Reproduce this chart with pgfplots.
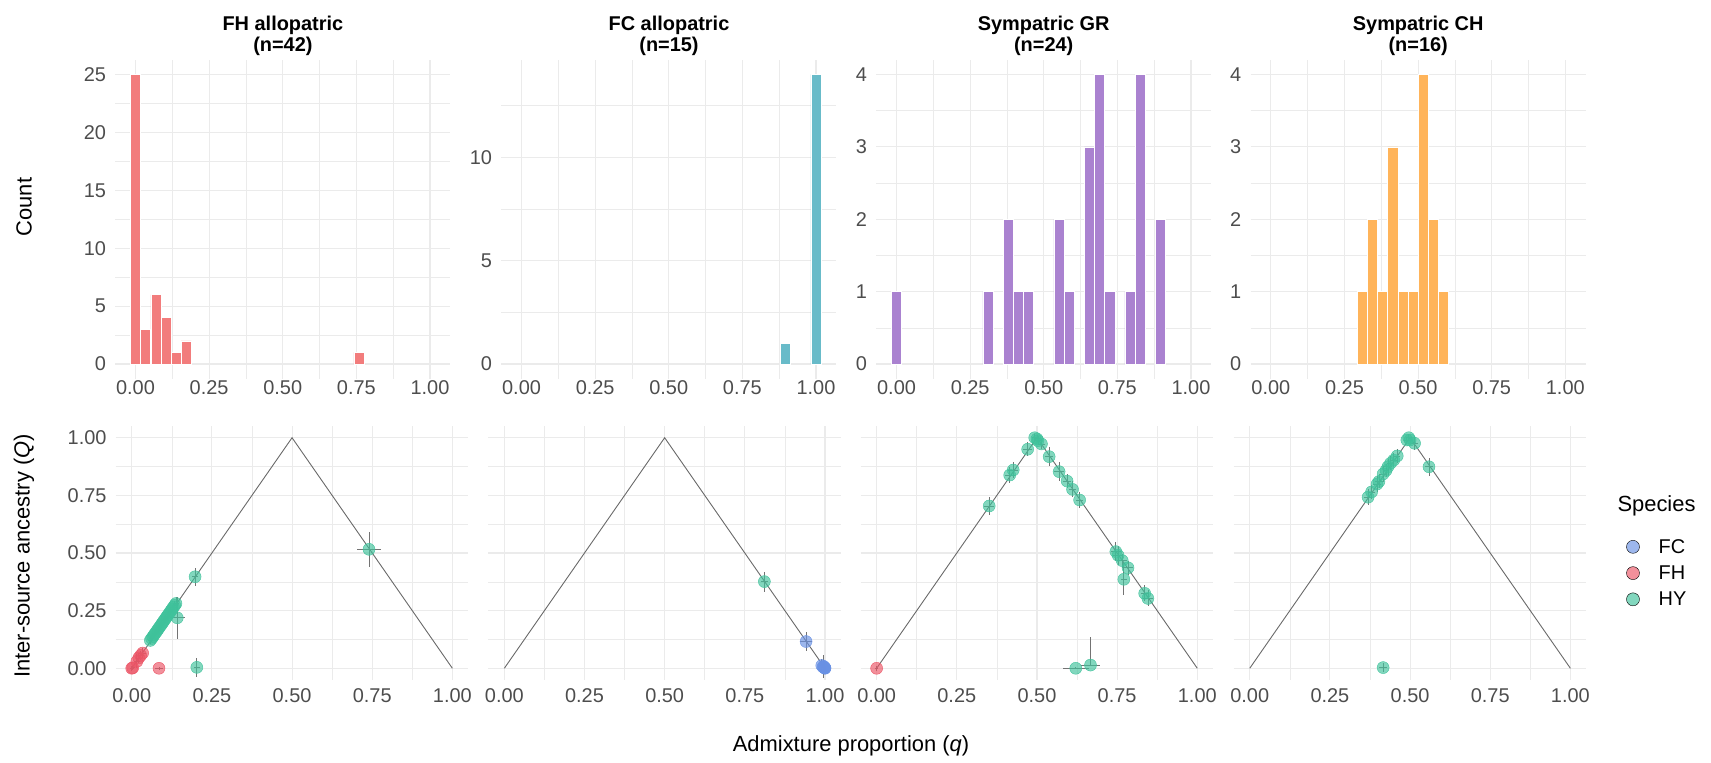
\documentclass[border=0pt]{standalone}
\usepackage{pgfplots}
\pgfplotsset{compat=1.18}
\usepackage{pgfplotstable}
\usepackage{fontspec}
\setmainfont{Liberation Sans}

\definecolor{gridc}{RGB}{235,235,235}
\definecolor{tickc}{RGB}{77,77,77}
\definecolor{hFH}{RGB}{242,124,124}
\definecolor{hFC}{RGB}{104,187,201}
\definecolor{hGR}{RGB}{170,130,208}
\definecolor{hCH}{RGB}{255,180,90}
\definecolor{cFC}{RGB}{105,145,228}
\definecolor{cFH}{RGB}{235,84,101}
\definecolor{cHY}{RGB}{63,194,155}
\definecolor{trig}{RGB}{105,105,105}

% ---------- histogram data (bin centre, count) ----------
\pgfplotstableread{
x c
0.00000 25
0.03448 3
0.06897 6
0.10345 4
0.13793 1
0.17241 2
0.75862 1
}\histFH
\pgfplotstableread{
x c
0.89655 1
1.00000 14
}\histFC
\pgfplotstableread{
x c
0.00000 1
0.31034 1
0.37931 2
0.41379 1
0.44828 1
0.55172 2
0.58621 1
0.65517 3
0.68966 4
0.72414 1
0.79310 1
0.82759 4
0.89655 2
}\histGR
\pgfplotstableread{
x c
0.31034 1
0.34483 2
0.37931 1
0.41379 3
0.44828 1
0.48276 1
0.51724 4
0.55172 2
0.58621 1
}\histCH

% ---------- scatter data (q, Q, dq, dQ) ----------
\pgfplotstableread{
q Q dq dQ
0.000 0.000 0.006 0.010
0.003 0.002 0.006 0.010
0.016 0.030 0.010 0.030
0.022 0.045 0.010 0.020
0.028 0.056 0.010 0.020
0.034 0.066 0.010 0.020
0.085 0.000 0.012 0.006
}\aFH
\pgfplotstableread{
q Q dq dQ
0.058 0.121 0.008 0.015
0.062 0.129 0.008 0.015
0.066 0.137 0.008 0.015
0.070 0.145 0.008 0.015
0.074 0.153 0.008 0.015
0.078 0.161 0.008 0.015
0.082 0.169 0.008 0.015
0.086 0.177 0.008 0.015
0.090 0.185 0.008 0.015
0.094 0.193 0.008 0.015
0.098 0.201 0.008 0.015
0.102 0.209 0.008 0.015
0.106 0.217 0.008 0.015
0.110 0.225 0.008 0.015
0.114 0.233 0.008 0.015
0.118 0.241 0.008 0.015
0.122 0.249 0.008 0.015
0.126 0.257 0.008 0.015
0.130 0.265 0.008 0.015
0.134 0.273 0.008 0.020
0.138 0.281 0.008 0.030
0.1975 0.397 0.010 0.039
0.142 0.219 0.023 0.090
0.203 0.004 0.010 0.040
0.740 0.516 0.038 0.076
}\aHY
\pgfplotstableread{
q Q dq dQ
0.811 0.376 0.012 0.043
}\bHY
\pgfplotstableread{
q Q dq dQ
0.941 0.116 0.020 0.043
0.990 0.012 0.008 0.030
0.994 0.006 0.006 0.050
0.997 0.004 0.005 0.020
0.999 0.002 0.005 0.010
1.000 0.000 0.004 0.010
1.000 0.001 0.004 0.010
0.998 0.003 0.004 0.015
0.996 0.008 0.005 0.020
}\bFC
\pgfplotstableread{
q Q dq dQ
0.000 0.000 0.004 0.010
}\cFHt
\pgfplotstableread{
q Q dq dQ
0.351 0.704 0.015 0.040
0.415 0.838 0.015 0.035
0.426 0.860 0.015 0.035
0.471 0.950 0.015 0.030
0.493 1.000 0.010 0.015
0.500 0.995 0.010 0.015
0.503 0.987 0.012 0.020
0.514 0.973 0.012 0.020
0.538 0.918 0.012 0.040
0.569 0.853 0.015 0.040
0.594 0.812 0.012 0.030
0.611 0.776 0.012 0.035
0.633 0.730 0.012 0.035
0.746 0.506 0.015 0.040
0.753 0.490 0.015 0.040
0.766 0.467 0.015 0.030
0.784 0.436 0.015 0.030
0.771 0.386 0.010 0.070
0.836 0.325 0.012 0.035
0.846 0.303 0.015 0.035
0.621 0.000 0.040 0.005
}\cHYt
\pgfplotstableread{
q Q dq dQ
0.667 0.014 0.030 0.120
}\cHYup
\pgfplotstableread{
q Q dq dQ
0.369 0.742 0.012 0.035
0.380 0.765 0.012 0.030
0.397 0.799 0.012 0.035
0.403 0.810 0.012 0.030
0.416 0.843 0.012 0.035
0.425 0.858 0.010 0.030
0.431 0.874 0.012 0.035
0.439 0.889 0.010 0.030
0.449 0.903 0.010 0.030
0.460 0.921 0.010 0.030
0.490 0.990 0.010 0.015
0.496 1.000 0.010 0.015
0.500 0.990 0.010 0.015
0.514 0.976 0.012 0.030
0.559 0.874 0.012 0.040
0.416 0.003 0.012 0.020
}\dHY

\pgfplotsset{
  panel/.style={
    scale only axis, anchor=south west,
    axis line style={draw=none},
    major tick length=0pt, minor tick length=0pt,
    tick style={draw=none},
    grid=both,
    major grid style={draw=gridc, line width=1.1bp},
    minor grid style={draw=gridc, line width=0.55bp},
    xtick={0,0.25,0.5,0.75,1},
    minor xtick={0.125,0.375,0.625,0.875},
    xticklabels={0.00,0.25,0.50,0.75,1.00},
    tick label style={font=\fontsize{20}{24}\selectfont, text=tickc},
    yticklabel style={inner sep=0pt},
    xticklabel style={inner sep=0pt},
    yticklabel shift=9bp,
  },
  toppanel/.style={panel, width=335.1bp, height=318.5bp, xmin=-0.069, xmax=1.069,
    xticklabel shift=2bp},
  botpanel/.style={panel, width=352.7bp, height=253.6bp, xmin=-0.05, xmax=1.05,
    ymin=-0.05, ymax=1.05, ytick={0,0.25,0.5,0.75,1},
    minor ytick={0.125,0.375,0.625,0.875}, xticklabel shift=9bp},
  hist/.style={ybar, bar width=0.03448, draw=white, line width=0.5bp},
  pts/.style={only marks, mark=*, mark size=6bp, color=#1,
    mark options={draw=none, fill=#1, fill opacity=0.65},
    error bars/.cd, x dir=both, x explicit, y dir=both, y explicit,
    error mark=none, error bar style={line width=0.8bp, color=black!55}},
  ptsup/.style={only marks, mark=*, mark size=6bp, color=#1,
    mark options={draw=none, fill=#1, fill opacity=0.65},
    error bars/.cd, x dir=both, x explicit, y dir=plus, y explicit,
    error mark=none, error bar style={line width=0.8bp, color=black!55}},
  tri/.style={trig, line width=0.9bp, no marks},
}

\begin{document}
\begin{tikzpicture}
\useasboundingbox (0,0) rectangle (1711bp,-763bp);

% ================= top row: histograms =================
\begin{axis}[toppanel, at={(115.2bp,-378.5bp)},
  ymin=-1.25, ymax=26.25, ytick={0,5,10,15,20,25},
  minor ytick={2.5,7.5,12.5,17.5,22.5}, yticklabels={0,5,10,15,20,25}]
\addplot[hist, fill=hFH] table[x=x,y=c] {\histFH};
\end{axis}

\begin{axis}[toppanel, at={(501.2bp,-378.5bp)},
  ymin=-0.7, ymax=14.7, ytick={0,5,10},
  minor ytick={2.5,7.5,12.5}, yticklabels={0,5,10}]
\addplot[hist, fill=hFC] table[x=x,y=c] {\histFC};
\end{axis}

\begin{axis}[toppanel, at={(876.2bp,-378.5bp)},
  ymin=-0.2, ymax=4.2, ytick={0,1,2,3,4},
  minor ytick={0.5,1.5,2.5,3.5}, yticklabels={0,1,2,3,4}]
\addplot[hist, fill=hGR] table[x=x,y=c] {\histGR};
\end{axis}

\begin{axis}[toppanel, at={(1250.5bp,-378.5bp)},
  ymin=-0.2, ymax=4.2, ytick={0,1,2,3,4},
  minor ytick={0.5,1.5,2.5,3.5}, yticklabels={0,1,2,3,4}]
\addplot[hist, fill=hCH] table[x=x,y=c] {\histCH};
\end{axis}

% ================= bottom row: scatter =================
\begin{axis}[botpanel, at={(115.7bp,-679.8bp)},
  yticklabels={0.00,0.25,0.50,0.75,1.00}]
\addplot[tri] coordinates {(0,0) (0.5,1) (1,0)};
\addplot[pts=cFH] table[x=q,y=Q,x error=dq,y error=dQ] {\aFH};
\addplot[pts=cHY] table[x=q,y=Q,x error=dq,y error=dQ] {\aHY};
\end{axis}

\begin{axis}[botpanel, at={(488.3bp,-679.8bp)}, yticklabels={{},{},{},{},{}}]
\addplot[tri] coordinates {(0,0) (0.5,1) (1,0)};
\addplot[pts=cHY] table[x=q,y=Q,x error=dq,y error=dQ] {\bHY};
\addplot[pts=cFC] table[x=q,y=Q,x error=dq,y error=dQ] {\bFC};
\end{axis}

\begin{axis}[botpanel, at={(860.6bp,-679.8bp)}, yticklabels={{},{},{},{},{}}]
\addplot[tri] coordinates {(0,0) (0.5,1) (1,0)};
\addplot[pts=cFH] table[x=q,y=Q,x error=dq,y error=dQ] {\cFHt};
\addplot[pts=cHY] table[x=q,y=Q,x error=dq,y error=dQ] {\cHYt};
\addplot[ptsup=cHY] table[x=q,y=Q,x error=dq,y error=dQ] {\cHYup};
\end{axis}

\begin{axis}[botpanel, at={(1233.7bp,-679.8bp)}, yticklabels={{},{},{},{},{}},
  legend style={draw=none, fill=none, at={(1.1125,0.421)}, anchor=west,
    inner sep=0pt, row sep=11bp, font=\fontsize{20}{24}\selectfont,
    nodes={inner sep=0pt}},
  legend cell align=left,
  legend image code/.code={\fill[#1] (6.5bp,0bp) circle (6.5bp); \path (0bp,0bp) (32bp,0bp);}]
\addlegendimage{fill=cFC, fill opacity=0.65}\addlegendentry{FC}
\addlegendimage{fill=cFH, fill opacity=0.65}\addlegendentry{FH}
\addlegendimage{fill=cHY, fill opacity=0.65}\addlegendentry{HY}
\addplot[forget plot, tri] coordinates {(0,0) (0.5,1) (1,0)};
\addplot[forget plot, pts=cHY] table[x=q,y=Q,x error=dq,y error=dQ] {\dHY};
\end{axis}

% ================= titles and labels =================
\begin{scope}[every node/.style={font=\fontsize{20}{24}\selectfont\bfseries, anchor=base}]
\node at (282.9bp,-30bp) {FH allopatric};
\node at (282.9bp,-51bp) {(n=42)};
\node at (669.0bp,-30bp) {FC allopatric};
\node at (669.0bp,-51bp) {(n=15)};
\node at (1043.7bp,-30bp) {Sympatric GR};
\node at (1043.7bp,-51bp) {(n=24)};
\node at (1418.2bp,-30bp) {Sympatric CH};
\node at (1418.2bp,-51bp) {(n=16)};
\end{scope}

\node[rotate=90, font=\fontsize{22}{26}\selectfont] at (24bp,-207bp) {Count};
\node[rotate=90, font=\fontsize{22}{26}\selectfont] at (24bp,-556bp) {Inter-source ancestry (\textit{Q})};
\node[font=\fontsize{22}{26}\selectfont] at (851bp,-746bp) {Admixture proportion (\textit{q})};
\node[font=\fontsize{22}{26}\selectfont, anchor=west] at (1614bp,-506bp) {Species};
\end{tikzpicture}
\end{document}
